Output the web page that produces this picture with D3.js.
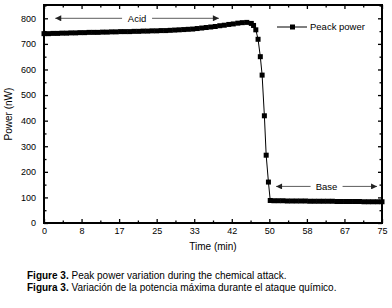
<!DOCTYPE html>
<html>
<head>
<meta charset="utf-8">
<script src="https://cdn.jsdelivr.net/npm/d3@7"></script>
<style>
  body { margin: 0; background: #fff; }
  svg { display: block; font-family: "Liberation Sans", Arial, sans-serif; }
</style>
</head>
<body>
<svg id="chart" width="392" height="308"></svg>
<script>
// acid phase, roughly one reading per minute
var acidTime = [0,1,2,3,4,5,6,7,8,9,10,11,12,13,14,15,16,17,18,19,20,21,22,23,
    24,25,26,27,28,29,30,31,32,33,34,35,36,37,38,39,40,41,42,43,44,45,46];
var acidPower = [740,740,741,741,742,742,743,743,744,744,745,745,745,746,746,747,
    747,748,748,748,749,749,750,750,751,751,752,752,753,754,755,756,757,758,760,
    762,764,766,768,771,773,776,778,781,783,784,780];
// fast drop
var dropTime = [46.5,47,47.5,48,48.4,48.9,49.3,49.8,50.2];
var dropPower = [772,755,718,650,578,419,265,160,88];
// base phase
var baseTime = [51,52,53,54,55,56,57,58,59,60,61,62,63,64,65,66,67,68,69,70,71,72,73,74,75];
var basePower = [87,87,87,86,86,86,86,86,85,85,85,85,85,85,84,84,84,84,84,84,83,83,83,83,83];

var xTicks = [0,8.333,16.667,25,33.333,41.667,50,58.333,66.667,75];
var xTickLabels = ['0','8','17','25','33','42','50','58','67','75'];
var yTicks = [0,100,200,300,400,500,600,700,800];

var times = acidTime.concat(dropTime, baseTime);
var powers = acidPower.concat(dropPower, basePower);
var data = times.map(function(t, i) { return {t: t, p: powers[i]}; });

var svg = d3.select('#chart');
var pL = 44, pR = 382, pT = 5, pB = 223;

var x = d3.scaleLinear().domain([0, 75]).range([pL, pR]);
var y = d3.scaleLinear().domain([0, 852]).range([pB, pT]);

// minor ticks halfway between the majors
var xMinor = xTicks.slice(0, -1).map(function(d, i) { return (d + xTicks[i + 1]) / 2; });
var yMinor = yTicks.map(function(d) { return d + 50; });

function tickG(axis, tr) {
    var g = svg.append('g').attr('transform', tr).call(axis);
    g.select('.domain').remove();
    g.selectAll('line').attr('stroke', '#000').attr('stroke-width', 1.3);
    return g;
}

// bottom
var gb = tickG(d3.axisBottom(x).tickValues(xTicks).tickSizeInner(-4).tickSizeOuter(0)
    .tickFormat(function(d, i) { return xTickLabels[i]; }).tickPadding(8), 'translate(0,' + pB + ')');
gb.selectAll('text').attr('font-size', 9).attr('fill', '#000').attr('dy', '0.35em');
tickG(d3.axisBottom(x).tickValues(xMinor).tickSizeInner(-2.5).tickSizeOuter(0).tickFormat(''), 'translate(0,' + pB + ')');
// top
tickG(d3.axisTop(x).tickValues(xTicks).tickSizeInner(-4).tickSizeOuter(0).tickFormat(''), 'translate(0,' + pT + ')');
tickG(d3.axisTop(x).tickValues(xMinor).tickSizeInner(-2.5).tickSizeOuter(0).tickFormat(''), 'translate(0,' + pT + ')');
// left
var gl = tickG(d3.axisLeft(y).tickValues(yTicks).tickSizeInner(-4).tickSizeOuter(0).tickPadding(8), 'translate(' + pL + ',0)');
gl.selectAll('text').attr('font-size', 9).attr('fill', '#000');
tickG(d3.axisLeft(y).tickValues(yMinor).tickSizeInner(-2.5).tickSizeOuter(0).tickFormat(''), 'translate(' + pL + ',0)');
// right
tickG(d3.axisRight(y).tickValues(yTicks).tickSizeInner(-4).tickSizeOuter(0).tickFormat(''), 'translate(' + pR + ',0)');
tickG(d3.axisRight(y).tickValues(yMinor).tickSizeInner(-2.5).tickSizeOuter(0).tickFormat(''), 'translate(' + pR + ',0)');

svg.append('rect')
    .attr('x', pL).attr('y', pT)
    .attr('width', pR - pL).attr('height', pB - pT)
    .attr('fill', 'none').attr('stroke', '#000').attr('stroke-width', 2);

// series
var line = d3.line().x(function(d) { return x(d.t); }).y(function(d) { return y(d.p); });
svg.append('path').datum(data)
    .attr('d', line).attr('fill', 'none').attr('stroke', '#000').attr('stroke-width', 1);
svg.selectAll('.pt').data(data).enter().append('rect')
    .attr('class', 'pt')
    .attr('x', function(d) { return x(d.t) - 2.5; })
    .attr('y', function(d) { return y(d.p) - 2.5; })
    .attr('width', 5).attr('height', 5).attr('fill', '#000');

// arrows
svg.append('defs').append('marker')
    .attr('id', 'ah').attr('viewBox', '0 0 10 10')
    .attr('refX', 10).attr('refY', 5)
    .attr('markerWidth', 10).attr('markerHeight', 6)
    .attr('markerUnits', 'userSpaceOnUse')
    .attr('orient', 'auto-start-reverse')
    .append('path').attr('d', 'M0,0L10,5L0,10Z').attr('fill', '#222');

function span(t0, t1, yv, label, gap) {
    var xm = (x(t0) + x(t1)) / 2;
    svg.append('line').attr('x1', x(t0)).attr('x2', xm - gap).attr('y1', y(yv)).attr('y2', y(yv))
        .attr('stroke', '#333').attr('stroke-width', 0.8).attr('marker-start', 'url(#ah)');
    svg.append('line').attr('x1', xm + gap).attr('x2', x(t1)).attr('y1', y(yv)).attr('y2', y(yv))
        .attr('stroke', '#333').attr('stroke-width', 0.8).attr('marker-end', 'url(#ah)');
    svg.append('text').attr('x', xm).attr('y', y(yv)).attr('dy', '0.35em')
        .attr('text-anchor', 'middle').attr('font-size', 9.5).text(label);
}
span(2.5, 38.8, 800, 'Acid', 15);
span(51.5, 73.9, 143, 'Base', 16);

// legend
var lg = svg.append('g').attr('transform', 'translate(277,27)');
lg.append('line').attr('x1', 0).attr('x2', 30).attr('stroke', '#000').attr('stroke-width', 1);
lg.append('rect').attr('x', 13).attr('y', -2.5).attr('width', 5).attr('height', 5).attr('fill', '#000');
lg.append('text').attr('x', 33).attr('dy', '0.35em').attr('font-size', 9.5).text('Peack power');

// axis titles
svg.append('text').attr('x', (pL + pR) / 2).attr('y', 250)
    .attr('text-anchor', 'middle').attr('font-size', 10).text('Time (min)');
svg.append('text').attr('transform', 'translate(12,114) rotate(-90)')
    .attr('text-anchor', 'middle').attr('font-size', 10).text('Power (nW)');

// caption
var cap = svg.append('text').attr('font-size', 10);
var c1 = cap.append('tspan').attr('x', 27).attr('y', 279);
c1.append('tspan').attr('font-weight', 'bold').text('Figure 3.');
c1.append('tspan').text(' Peak power variation during the chemical attack.');
var c2 = cap.append('tspan').attr('x', 27).attr('y', 290.5);
c2.append('tspan').attr('font-weight', 'bold').text('Figura 3.');
c2.append('tspan').text(' Variación de la potencia máxima durante el ataque químico.');
</script>
</body>
</html>
